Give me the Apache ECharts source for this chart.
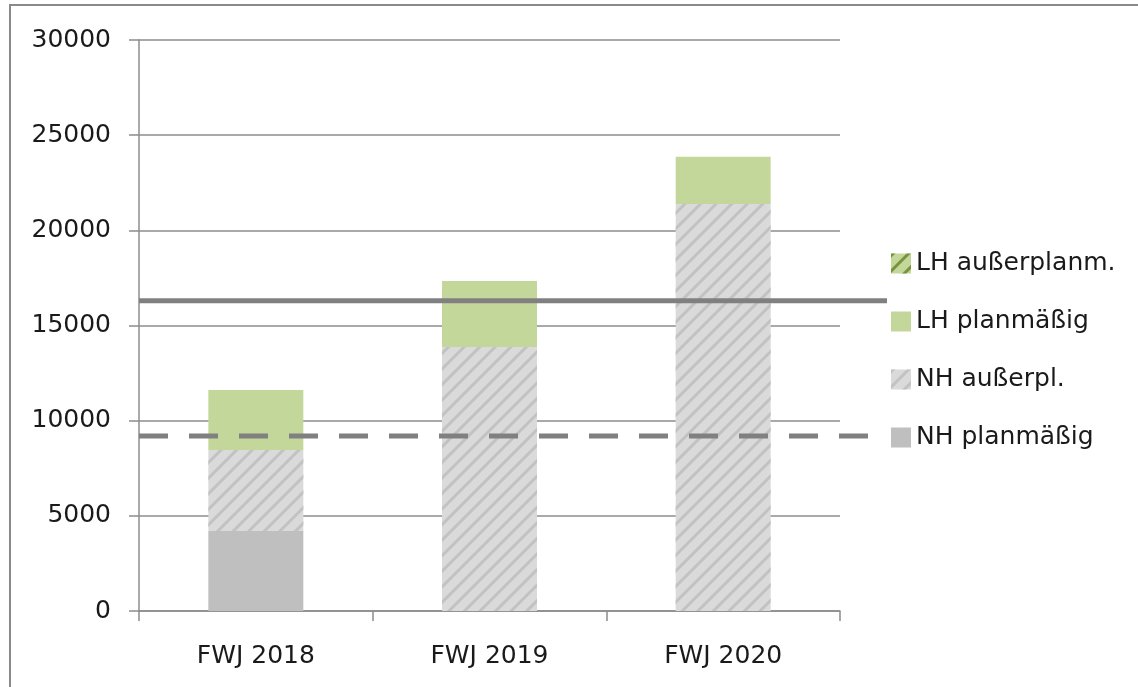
<!doctype html>
<html>
<head>
  <meta charset="utf-8">
  <script src="https://cdn.jsdelivr.net/npm/echarts@6/dist/echarts.min.js"></script>
  <style type="text/css">
    body { margin: 0; background: #ffffff; }
    #frame { position: absolute; left: 9px; top: 4px; width: 1129px; height: 683px;
             border-left: 2px solid #8a8a8a; border-top: 2px solid #8a8a8a; }
    #main { position: absolute; left: 0; top: 0; width: 1138px; height: 687px; }
  </style>
</head>
<body>
  <div id="frame"></div>
  <div id="main"></div>
  <script type="text/javascript">
    // data
    var categories = ['FWJ 2018', 'FWJ 2019', 'FWJ 2020'];
    var nhPlan = [4200, 0, 0];
    var nhAusser = [4260, 13870, 21390];
    var lhPlan = [3150, 3470, 2470];
    var lhAusser = [0, 0, 0];
    var yTicks = [0, 30000, 5000];   // min, max, step

    // the two reference lines run past the plot, into the legend area
    var solidLevel = 16300;
    var solidSpan = [0, 1];
    var dashedLevel = 9200;
    var dashedSpan = [0, 0.975];

    var legendNames = ['LH außerplanm.', 'LH planmäßig', 'NH außerpl.', 'NH planmäßig'];

    var grey = '#8c8c8c';
    var font = 'DejaVu Sans';
    var txt = '#1a1a1a';

    function hatch(col) {
      return {
        symbol: 'rect',
        symbolSize: 1,
        color: col,
        dashArrayX: [1, 0],
        dashArrayY: [3, 8],
        rotation: -Math.PI / 4
      };
    }

    var myChart = echarts.init(document.getElementById('main'));

    var option = {
      animation: false,
      textStyle: { fontFamily: font },
      grid: [
        { left: 139, right: 298, top: 40, bottom: 76 },
        { left: 139, right: 251, top: 40, bottom: 76 }
      ],
      legend: {
        orient: 'vertical',
        left: 886,
        top: 246,
        icon: 'rect',
        itemWidth: 20,
        itemHeight: 20,
        itemGap: 33,
        data: legendNames,
        textStyle: { fontFamily: font, fontSize: 25, color: txt }
      },
      xAxis: [
        {
          type: 'category',
          gridIndex: 0,
          data: categories,
          axisLine: { lineStyle: { color: grey, width: 1.5 } },
          axisTick: { show: true, length: 10, lineStyle: { color: grey, width: 1.5 } },
          axisLabel: { fontFamily: font, fontSize: 25, color: txt, margin: 33 }
        },
        {
          type: 'value',
          gridIndex: 1,
          min: 0,
          max: 1,
          show: false
        }
      ],
      yAxis: [
        {
          type: 'value',
          gridIndex: 0,
          min: yTicks[0],
          max: yTicks[1],
          interval: yTicks[2],
          axisLine: { show: true, lineStyle: { color: grey, width: 1.5 } },
          axisTick: { show: true, length: 10, lineStyle: { color: grey, width: 1.5 } },
          splitLine: { lineStyle: { color: grey, width: 1.5 } },
          axisLabel: {
            fontFamily: font, fontSize: 25, color: txt, margin: 28,
            formatter: function (v) { return String(v); }
          }
        },
        {
          type: 'value',
          gridIndex: 1,
          min: yTicks[0],
          max: yTicks[1],
          show: false
        }
      ],
      series: [
        {
          name: 'NH planmäßig', type: 'bar', stack: 'total', barWidth: 95,
          data: nhPlan,
          itemStyle: { color: '#bfbfbf' }
        },
        {
          name: 'NH außerpl.', type: 'bar', stack: 'total', barWidth: 95,
          data: nhAusser,
          itemStyle: { color: '#dadada', decal: hatch('#c2c2c2') }
        },
        {
          name: 'LH planmäßig', type: 'bar', stack: 'total', barWidth: 95,
          data: lhPlan,
          itemStyle: { color: '#c4d79b' }
        },
        {
          name: 'LH außerplanm.', type: 'bar', stack: 'total', barWidth: 95,
          data: lhAusser,
          itemStyle: { color: '#c4d79b', decal: hatch('#77933c') }
        },
        {
          type: 'line', xAxisIndex: 1, yAxisIndex: 1, z: 5,
          symbol: 'none', silent: true,
          data: [[solidSpan[0], solidLevel], [solidSpan[1], solidLevel]],
          lineStyle: { color: '#808080', width: 5 }
        },
        {
          type: 'line', xAxisIndex: 1, yAxisIndex: 1, z: 5,
          symbol: 'none', silent: true,
          data: [[dashedSpan[0], dashedLevel], [dashedSpan[1], dashedLevel]],
          lineStyle: { color: '#808080', width: 5, type: [29, 21] }
        }
      ]
    };

    myChart.setOption(option);
  </script>
</body>
</html>
